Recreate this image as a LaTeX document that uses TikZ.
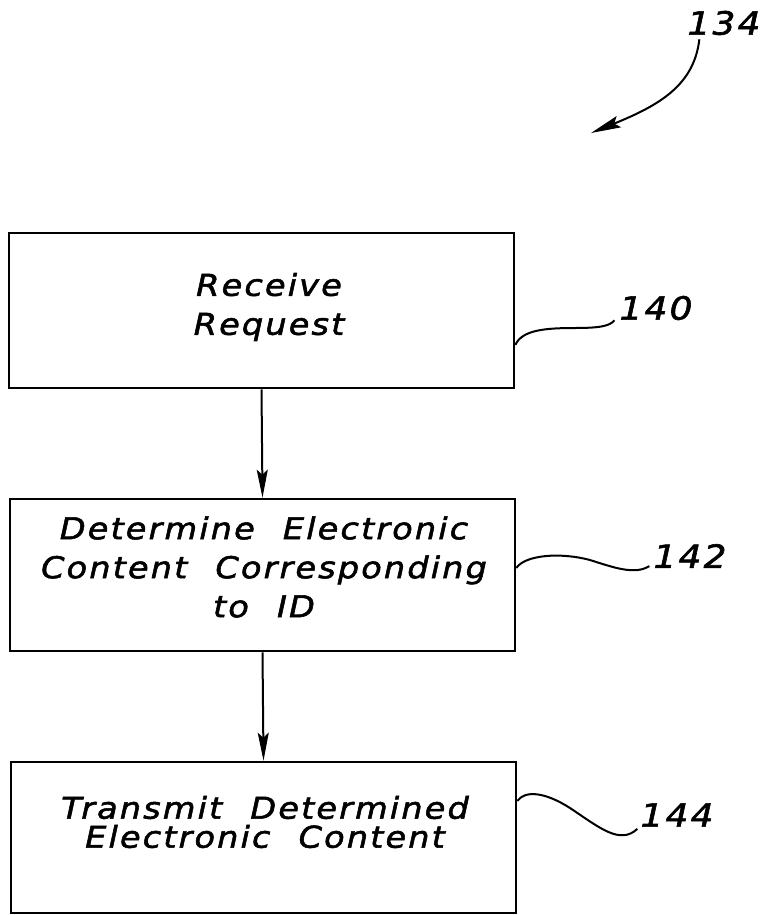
\documentclass[tikz,border=0pt]{standalone}
\usepackage{fontspec}
\usetikzlibrary{arrows.meta,calc}
\newfontfamily\draftfont{DejaVu Sans}[LetterSpace=7,WordSpace=2.2,FakeStretch=1.12,FakeBold=1.8]
\begin{document}
\begin{tikzpicture}[x=1pt,y=-1pt,
  stepbox/.style={draw,line width=2.6pt,minimum width=505pt,minimum height=155pt,inner sep=0pt},
  steptext/.style={align=center,inner sep=0pt,font=\draftfont\itshape\fontsize{30}{39}\selectfont},
  reflabel/.style={inner sep=0pt,font=\draftfont\itshape\fontsize{32}{36}\selectfont},
  flow/.style={line width=2pt,-{Stealth[length=28pt,width=11pt,inset=5pt]}},
  leader/.style={line width=2pt}]
\useasboundingbox (0,0) rectangle (765,915);
\node[stepbox] (b1) at (261.5,310.5) {};
\node[stepbox,minimum height=152pt] (b2) at (262.5,575) {};
\node[stepbox,minimum height=151pt] (b3) at (263.5,837.5) {};
\node[steptext] (t1) at (269,307) {Receive\\Request};
\node[steptext] (t2) at (264,567) {Determine Electronic\\Content Corresponding\\to ID};
\node[steptext,font=\draftfont\itshape\fontsize{30}{29}\selectfont] (t3) at (265,822) {Transmit Determined\\Electronic Content};
\node[reflabel] (l134) at (724,23) {134};
\node[reflabel] (l140) at (656,308) {140};
\node[reflabel] (l142) at (690,556) {142};
\node[reflabel] (l144) at (677,815) {144};
\draw[flow] (b1.south) -- (b2.north);
\draw[flow] (b2.south) -- (b3.north);
\coordinate (a134) at (591,133);
\draw[line width=2pt,-{Stealth[length=30pt,width=12pt,inset=5pt]}] ($(l134.south west)+(12,4)$) .. controls (694,85) and (660,105) .. (a134);
\draw[leader] ($(b1.east)+(0,34.5)$) .. controls (522,330) and (545,328) .. (575,328) .. controls (600,328) and (610,326) .. ($(l140.south west)+(-5,0)$);
\draw[leader] ($(b2.east)+(0,-7)$) .. controls (525,555) and (560,552) .. (590,560) .. controls (615,568) and (635,575) .. ($(l142.south west)+(-4,-2)$);
\draw[leader] ($(b3.east)+(0,-36.5)$) .. controls (525,790) and (545,792) .. (570,808) .. controls (600,828) and (620,845) .. ($(l144.south west)+(-3,2)$);
\end{tikzpicture}
\end{document}
